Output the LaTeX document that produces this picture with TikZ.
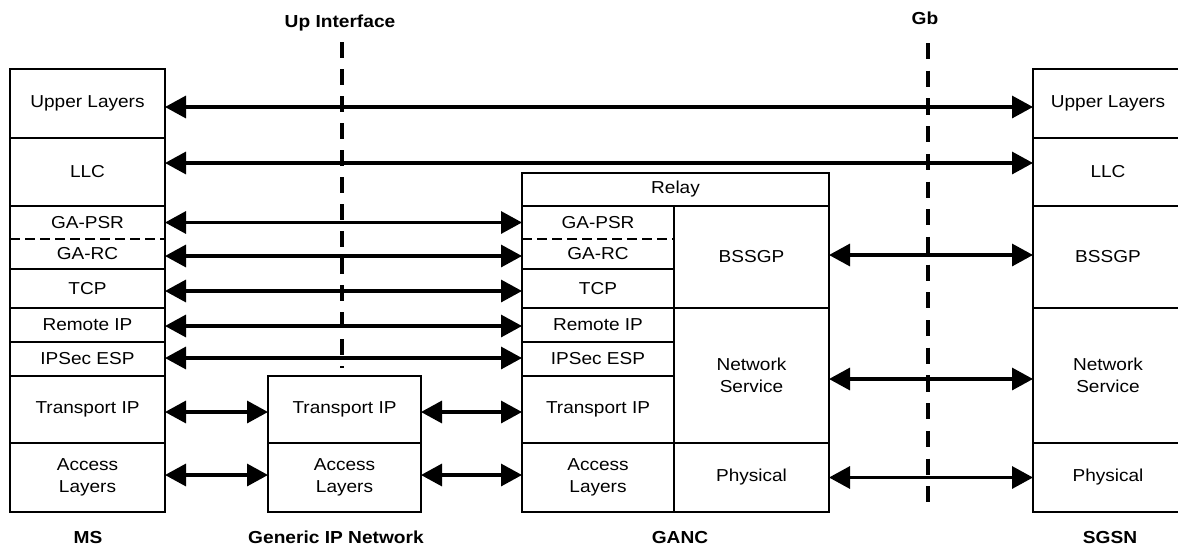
\documentclass[tikz,border=0pt]{standalone}
\usepackage{fontspec}
\setmainfont{Liberation Sans}[FakeStretch=1.1]
\usetikzlibrary{arrows.meta}
\begin{document}
\begin{tikzpicture}[x=1pt,y=-1pt,
  font=\fontsize{17.3}{21.5}\selectfont,
  lay/.style={draw, line width=1.3pt, inner sep=0pt, outer sep=0pt, anchor=north west, align=center},
  txt/.style={inner sep=0pt, outer sep=0pt, anchor=north west, align=center},
  lbl/.style={font=\fontsize{17.4}{21}\selectfont\bfseries, inner sep=0pt},
  arr/.style={line width=3.3pt, {Triangle[length=21pt,width=22pt]}-{Triangle[length=21pt,width=22pt]}},
  iface/.style={line width=4pt, dash pattern=on 16pt off 11pt},
  ifaceb/.style={line width=4pt, dash pattern=on 16.1pt off 11.6pt},
  sep/.style={line width=1.1pt, dash pattern=on 10pt off 5pt}]
\useasboundingbox (0,0) rectangle (1178,549);
\fill[white] (0,0) rectangle (1178,549);

% interface lines
\node[lbl] (upL) at (340,23) {Up Interface};
\node[lbl] (gbL) at (925,18) {Gb};
\coordinate (upT) at (342,42);
\coordinate (upB) at (342,368);
\coordinate (gbT) at (928,43);
\coordinate (gbB) at (928,503);
\draw[iface] (upT) -- (upB);
\draw[ifaceb] (gbT) -- (gbB);

% MS
\node[lay, minimum width=155pt, minimum height=69pt] (msUL) at (10,69) {Upper Layers};
\node[lay, minimum width=155pt, minimum height=68pt] (msLLC) at (10,138) {LLC};
\node[txt, minimum width=155pt, minimum height=33pt] (msPSR) at (10,206) {GA-PSR};
\node[txt, minimum width=155pt, minimum height=30pt] (msRC) at (10,239) {GA-RC};
\draw[line width=1.3pt] (msPSR.north west) rectangle (msRC.south east);
\draw[sep] (msPSR.south west) -- (msPSR.south east);
\node[lay, minimum width=155pt, minimum height=39pt] (msTCP) at (10,269) {TCP};
\node[lay, minimum width=155pt, minimum height=34pt] (msRIP) at (10,308) {Remote IP};
\node[lay, minimum width=155pt, minimum height=34pt] (msESP) at (10,342) {IPSec ESP};
\node[lay, minimum width=155pt, minimum height=67pt] (msTIP) at (10,376) {Transport IP};
\node[lay, minimum width=155pt, minimum height=69pt] (msAL) at (10,443) {Access\\Layers};

% Generic IP network
\node[lay, minimum width=153pt, minimum height=67pt] (nTIP) at (268,376) {Transport IP};
\node[lay, minimum width=153pt, minimum height=69pt] (nAL) at (268,443) {Access\\Layers};

% GANC
\node[lay, minimum width=307pt, minimum height=33pt] (gRelay) at (522,173) {Relay};
\node[txt, minimum width=152pt, minimum height=33pt] (gPSR) at (522,206) {GA-PSR};
\node[txt, minimum width=152pt, minimum height=30pt] (gRC) at (522,239) {GA-RC};
\draw[line width=1.3pt] (gPSR.north west) rectangle (gRC.south east);
\draw[sep] (gPSR.south west) -- (gPSR.south east);
\node[lay, minimum width=152pt, minimum height=39pt] (gTCP) at (522,269) {TCP};
\node[lay, minimum width=152pt, minimum height=34pt] (gRIP) at (522,308) {Remote IP};
\node[lay, minimum width=152pt, minimum height=34pt] (gESP) at (522,342) {IPSec ESP};
\node[lay, minimum width=152pt, minimum height=67pt] (gTIP) at (522,376) {Transport IP};
\node[lay, minimum width=152pt, minimum height=69pt] (gAL) at (522,443) {Access\\Layers};
\node[lay, minimum width=155pt, minimum height=102pt] (gBSSGP) at (674,206) {BSSGP};
\node[lay, minimum width=155pt, minimum height=135pt] (gNS) at (674,308) {Network\\Service};
\node[lay, minimum width=155pt, minimum height=69pt] (gPhy) at (674,443) {Physical};

% SGSN
\node[lay, minimum width=150pt, minimum height=69pt] (sUL) at (1033,69) {Upper Layers};
\node[lay, minimum width=150pt, minimum height=68pt] (sLLC) at (1033,138) {LLC};
\node[lay, minimum width=150pt, minimum height=102pt] (sBSSGP) at (1033,206) {BSSGP};
\node[lay, minimum width=150pt, minimum height=135pt] (sNS) at (1033,308) {Network\\Service};
\node[lay, minimum width=150pt, minimum height=69pt] (sPhy) at (1033,443) {Physical};

% bottom labels
\node[lbl] (lMS) at (88,538) {MS};
\node[lbl] (lGen) at (336,537) {Generic IP Network};
\node[lbl] (lGANC) at (680,538) {GANC};
\node[lbl] (lSGSN) at (1110,538) {SGSN};

% arrows
\draw[arr] ([yshift=-3.5pt]msUL.east) -- ([yshift=-3.5pt]sUL.west);
\draw[arr] ([yshift=9pt]msLLC.east) -- ([yshift=9pt]sLLC.west);
\draw[arr] (msPSR.east) -- (gPSR.west);
\draw[arr] ([yshift=-2pt]msRC.east) -- ([yshift=-2pt]gRC.west);
\draw[arr] ([yshift=-2.5pt]msTCP.east) -- ([yshift=-2.5pt]gTCP.west);
\draw[arr] ([yshift=-1pt]msRIP.east) -- ([yshift=-1pt]gRIP.west);
\draw[arr] ([yshift=1pt]msESP.east) -- ([yshift=1pt]gESP.west);
\draw[arr] ([yshift=-2.5pt]msTIP.east) -- ([yshift=-2.5pt]nTIP.west);
\draw[arr] ([yshift=-2.5pt]nTIP.east) -- ([yshift=-2.5pt]gTIP.west);
\draw[arr] ([yshift=2.5pt]msAL.east) -- ([yshift=2.5pt]nAL.west);
\draw[arr] ([yshift=2.5pt]nAL.east) -- ([yshift=2.5pt]gAL.west);
\draw[arr] ([yshift=2pt]gBSSGP.east) -- ([yshift=2pt]sBSSGP.west);
\draw[arr] ([yshift=-3.5pt]gNS.east) -- ([yshift=-3.5pt]sNS.west);
\draw[arr] (gPhy.east) -- (sPhy.west);
\end{tikzpicture}
\end{document}
